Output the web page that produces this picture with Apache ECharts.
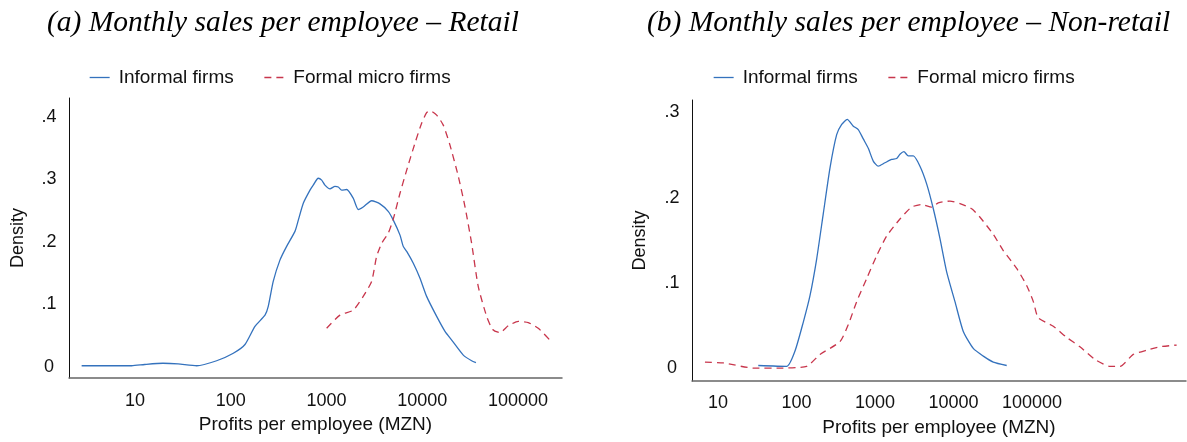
<!DOCTYPE html>
<html>
<head>
<meta charset="utf-8">
<title>Monthly sales per employee</title>
<script src="https://cdn.jsdelivr.net/npm/echarts@6/dist/echarts.min.js"></script>
<style>
html, body { margin: 0; padding: 0; background: #fff; }
#chart { width: 1187px; height: 442px; }
</style>
</head>
<body>
<div id="chart"></div>
<script>
// x values are log10(MZN)
var tickPos = [1, 2, 3, 4, 5]
var tickLabels = ['10', '100', '1000', '10000', '100000']
var retailYTicks = [0, 0.1, 0.2, 0.3, 0.4]
var nonRetailYTicks = [0, 0.1, 0.2, 0.3]

// (a) Retail
var retailInformalX = [0.443, 0.966, 1.1, 1.292, 1.45, 1.644, 1.853, 2.027, 2.149, 2.253, 2.358, 2.392, 2.444, 2.514, 2.584, 2.671, 2.706, 2.758, 2.828, 2.862, 2.914, 2.950, 2.984, 3.037, 3.089, 3.123, 3.159, 3.211, 3.280, 3.332, 3.384, 3.472, 3.559, 3.645, 3.698, 3.768, 3.802, 3.838, 3.907, 3.977, 4.046, 4.151, 4.238, 4.308, 4.429, 4.516, 4.561]
var retailInformalY = [0.002, 0.002, 0.004, 0.006, 0.005, 0.002, 0.010, 0.022, 0.036, 0.065, 0.083, 0.097, 0.137, 0.171, 0.193, 0.217, 0.235, 0.262, 0.283, 0.291, 0.302, 0.299, 0.291, 0.285, 0.289, 0.288, 0.283, 0.284, 0.270, 0.252, 0.256, 0.266, 0.261, 0.249, 0.235, 0.211, 0.193, 0.185, 0.166, 0.142, 0.113, 0.081, 0.057, 0.043, 0.019, 0.010, 0.007]
var retailFormalX = [3.002, 3.141, 3.280, 3.384, 3.472, 3.524, 3.577, 3.645, 3.698, 3.768, 3.838, 3.924, 3.994, 4.046, 4.081, 4.151, 4.220, 4.290, 4.377, 4.446, 4.516, 4.585, 4.673, 4.736, 4.812, 4.899, 5.003, 5.108, 5.212, 5.327]
var retailFormalY = [0.062, 0.083, 0.091, 0.113, 0.137, 0.177, 0.198, 0.214, 0.237, 0.278, 0.315, 0.358, 0.390, 0.407, 0.410, 0.403, 0.387, 0.355, 0.305, 0.257, 0.198, 0.129, 0.081, 0.060, 0.055, 0.066, 0.073, 0.071, 0.062, 0.044]

// (b) Non-retail
var nonRetailInformalX = [1.513, 1.875, 1.981, 2.087, 2.172, 2.257, 2.341, 2.427, 2.512, 2.576, 2.647, 2.724, 2.787, 2.851, 2.915, 2.978, 3.042, 3.127, 3.213, 3.276, 3.318, 3.369, 3.424, 3.488, 3.573, 3.659, 3.743, 3.828, 3.913, 4.019, 4.125, 4.252, 4.380, 4.507, 4.678]
var nonRetailInformalY = [0.003, 0.002, 0.020, 0.054, 0.085, 0.128, 0.181, 0.235, 0.274, 0.286, 0.292, 0.284, 0.280, 0.269, 0.258, 0.243, 0.237, 0.241, 0.245, 0.246, 0.251, 0.254, 0.249, 0.249, 0.237, 0.216, 0.187, 0.152, 0.113, 0.078, 0.043, 0.023, 0.014, 0.007, 0.003]
var nonRetailFormalX = [0.834, 1.068, 1.450, 1.790, 2.130, 2.299, 2.554, 2.660, 2.767, 2.894, 3.022, 3.149, 3.318, 3.467, 3.595, 3.722, 3.806, 3.955, 4.083, 4.232, 4.338, 4.507, 4.634, 4.805, 4.932, 5.017, 5.080, 5.271, 5.442, 5.611, 5.803, 5.994, 6.121, 6.290, 6.461, 6.631, 6.843]
var nonRetailFormalY = [0.007, 0.006, 0.000, 0.000, 0.002, 0.016, 0.031, 0.051, 0.078, 0.105, 0.132, 0.155, 0.175, 0.189, 0.192, 0.189, 0.194, 0.196, 0.193, 0.187, 0.177, 0.157, 0.138, 0.117, 0.097, 0.078, 0.059, 0.049, 0.036, 0.025, 0.010, 0.002, 0.002, 0.016, 0.021, 0.025, 0.027]

var blue = '#3472bd'
var red = '#c8364c'
var sans = 'Liberation Sans, Arial, sans-serif'
var serif = 'Liberation Serif, Times New Roman, serif'

function pairs (xs, ys) {
  return xs.map(function (x, i) { return [x, ys[i]] })
}

function xAxisFor (grid, min, max, margin) {
  return {
    type: 'value', gridIndex: grid, min: min, max: max,
    name: 'Profits per employee (MZN)', nameLocation: 'middle', nameGap: 37,
    nameTextStyle: { fontFamily: sans, fontSize: 19, color: '#111' },
    axisLine: { show: true, onZero: false, lineStyle: { color: '#666', width: 1.5 } },
    axisTick: { show: false },
    splitLine: { show: false },
    axisLabel: {
      customValues: tickPos, margin: margin,
      fontFamily: sans, fontSize: 18, color: '#111',
      formatter: function (v) { return tickLabels[tickPos.indexOf(Math.round(v))] }
    }
  }
}

function yAxisFor (grid, min, max, ticks, gap) {
  return {
    type: 'value', gridIndex: grid, min: min, max: max,
    name: 'Density', nameLocation: 'middle', nameGap: gap,
    nameTextStyle: { fontFamily: sans, fontSize: 18, color: '#111' },
    axisLine: { show: true, onZero: false, lineStyle: { color: '#111', width: 1 } },
    axisTick: { show: false },
    splitLine: { show: false },
    axisLabel: {
      customValues: ticks, margin: 20, align: 'center',
      fontFamily: sans, fontSize: 18, color: '#111',
      formatter: function (v) { return v === 0 ? '0' : '.' + Math.round(v * 10) }
    }
  }
}

function line (name, grid, data, color, dashed) {
  return {
    name: name, type: 'line', xAxisIndex: grid, yAxisIndex: grid,
    data: data, showSymbol: false, symbol: 'none', smooth: 0.2,
    lineStyle: { color: color, width: 1.3, type: dashed ? [7, 5] : 'solid' },
    itemStyle: { color: color }
  }
}

function legendAt (left) {
  return {
    left: left, top: 63, orient: 'horizontal',
    itemWidth: 20, itemHeight: 14, itemGap: 30,
    itemStyle: { opacity: 0 },
    lineStyle: { width: 1.3 },
    textStyle: { fontFamily: sans, fontSize: 19, color: '#111', padding: [0, 0, 0, 4] },
    data: ['Informal firms', 'Formal micro firms']
  }
}

function titleAt (text, left) {
  return {
    text: text, left: left, top: 8, padding: 0,
    textStyle: { fontFamily: serif, fontStyle: 'italic', fontWeight: 'normal', fontSize: 29.5, color: '#000' }
  }
}

var chart = echarts.init(document.getElementById('chart'))
chart.setOption({
  backgroundColor: '#fff',
  animation: false,
  title: [
    titleAt('(a) Monthly sales per employee – Retail', 47),
    titleAt('(b) Monthly sales per employee – Non-retail', 647)
  ],
  legend: [legendAt(84), legendAt(708)],
  grid: [
    { left: 69, top: 98, width: 493, height: 280 },
    { left: 692, top: 100, width: 494, height: 283 }
  ],
  xAxis: [
    xAxisFor(0, 0.311, 5.46, 14),
    xAxisFor(1, 0.669, 6.962, 13)
  ],
  yAxis: [
    yAxisFor(0, -0.0176, 0.4304, retailYTicks, 42),
    yAxisFor(1, -0.0152, 0.3147, nonRetailYTicks, 43)
  ],
  series: [
    line('Informal firms', 0, pairs(retailInformalX, retailInformalY), blue, false),
    line('Formal micro firms', 0, pairs(retailFormalX, retailFormalY), red, true),
    line('Informal firms', 1, pairs(nonRetailInformalX, nonRetailInformalY), blue, false),
    line('Formal micro firms', 1, pairs(nonRetailFormalX, nonRetailFormalY), red, true)
  ]
})
</script>
</body>
</html>
